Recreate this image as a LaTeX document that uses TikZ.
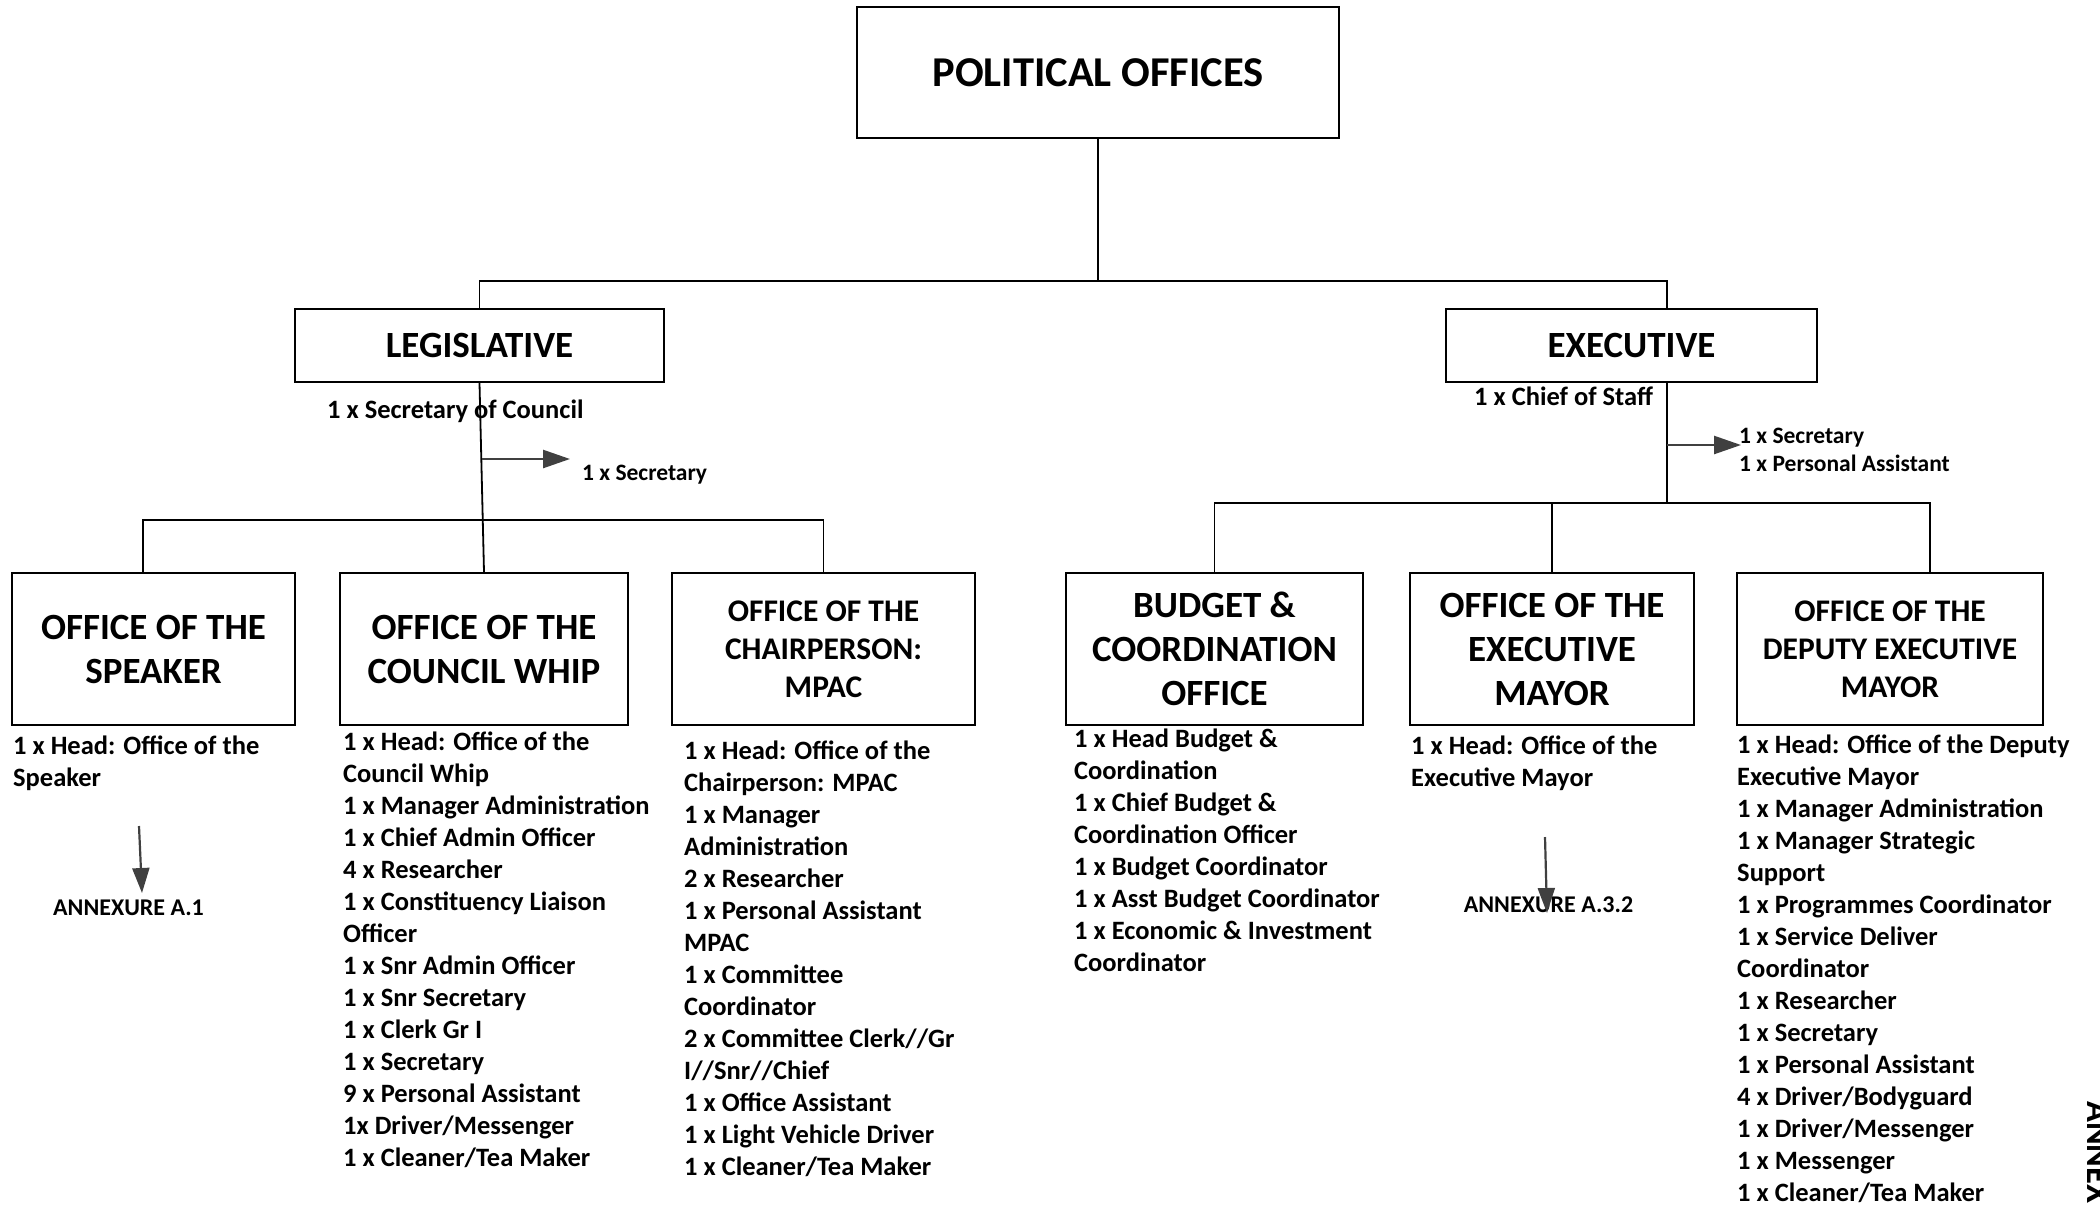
\documentclass[tikz,border=0pt]{standalone}
\usepackage{fontspec}
\setmainfont{Carlito}
\usetikzlibrary{arrows.meta}
\newcommand\myst{\rule{0pt}{20pt}}
\newcommand\mysts{\rule{0pt}{18pt}}
\begin{document}
\begin{tikzpicture}[x=1pt,y=-1pt,
  box/.style={draw=black, line width=2pt, inner sep=0pt, align=center,
    font=\fontsize{37}{44}\selectfont\bfseries},
  boxs/.style={box, font=\fontsize{31.5}{38}\selectfont\bfseries},
  lst/.style={anchor=north west, inner sep=0pt, align=left,
    font=\fontsize{26.5}{32}\selectfont\bfseries},
  lsts/.style={anchor=north west, inner sep=0pt, align=left,
    font=\fontsize{23.5}{28}\selectfont\bfseries},
  lbl/.style={anchor=base west, inner sep=0pt,
    font=\fontsize{26.5}{32}\selectfont\bfseries},
  lbls/.style={anchor=base west, inner sep=0pt,
    font=\fontsize{23.5}{28}\selectfont\bfseries},
  ann/.style={anchor=base, inner sep=0pt,
    font=\fontsize{24}{28}\selectfont\bfseries},
  conn/.style={draw=black, line width=1.8pt},
  arr/.style={draw=black!75, line width=2.5pt, -{Triangle[length=27pt,width=18pt]}},
  arrd/.style={draw=black!75, line width=2.2pt, -{Triangle[length=25pt,width=17pt]}}
]
\useasboundingbox (0,0) rectangle (2100,1205);

% top level
\node[box, font=\fontsize{42.5}{50}\selectfont\bfseries, minimum width=482pt, minimum height=131pt] (pol) at (1098,72.5) {POLITICAL OFFICES};
\node[box, minimum width=369pt, minimum height=73pt] (leg) at (479.5,345.5) {LEGISLATIVE};
\node[box, minimum width=371pt, minimum height=73pt] (exe) at (1631.5,345.5) {EXECUTIVE};

% offices
\node[box, minimum width=283pt, minimum height=152pt] (spk) at (153.5,649) {OFFICE OF THE\\SPEAKER};
\node[box, minimum width=288pt, minimum height=152pt] (whip) at (484,649) {OFFICE OF THE\\COUNCIL WHIP};
\node[boxs, minimum width=303pt, minimum height=152pt] (mpac) at (823.5,649) {OFFICE OF THE\\CHAIRPERSON:\\MPAC};
\node[box, minimum width=297pt, minimum height=152pt] (bud) at (1214.5,649) {BUDGET \&\\COORDINATION\\OFFICE};
\node[box, minimum width=284pt, minimum height=152pt] (may) at (1552,649) {OFFICE OF THE\\EXECUTIVE\\MAYOR};
\node[boxs, minimum width=306pt, minimum height=152pt] (dep) at (1890,649) {OFFICE OF THE\\DEPUTY EXECUTIVE\\MAYOR};

% coordinates
\coordinate (j0) at (1098,281);
\coordinate (exeTop) at (1667,309);
\coordinate (exeBot) at (1667,382);
\coordinate (j2) at (1667,503);
\coordinate (j1) at (483,520);
\coordinate (spkTop) at (143,573);
\coordinate (depTop) at (1930,573);
\coordinate (ls) at (482,459);
\coordinate (lt) at (570,459);
\coordinate (es) at (1667,445);
\coordinate (et) at (1741,445);
\coordinate (an1s) at (139,826);
\coordinate (an1e) at (142,893);
\coordinate (an2s) at (1545,837);
\coordinate (an2e) at (1547,913);

% connectors
\draw[conn] (pol.south) -- (j0);
\draw[conn] (leg.north) |- (j0) -| (exeTop);
\draw[conn] (leg.south) -- (whip.north);
\draw[conn] (spkTop) |- (j1) -| (mpac.north);
\draw[conn] (exeBot) -- (j2);
\draw[conn] (bud.north) |- (j2) -| (depTop);
\draw[conn] (may.north) -- (may.north |- j2);

% side labels
\node[lbl] (socl) at (327,418) {1 x Secretary of Council};
\node[lbls] (sec1) at (582,480) {1 x Secretary};
\node[lbl] (cos) at (1474,405) {1 x Chief of Staff};
\node[lsts] (sec2) at (1739,425) {\mysts 1 x Secretary\\1 x Personal Assistant};
\draw[arr] (ls) -- (lt);
\draw[arr] (es) -- (et);

% lists
\node[lst] (spkl) at (13,734) {\myst 1 x Head: Office of the\\Speaker};
\node[lst] (whipl) at (343,730) {\myst 1 x Head: Office of the\\Council Whip\\1 x Manager Administration\\1 x Chief Admin Officer\\4 x Researcher\\1 x Constituency Liaison\\Officer\\1 x Snr Admin Officer\\1 x Snr Secretary\\1 x Clerk Gr I\\1 x Secretary\\9 x Personal Assistant\\1x Driver/Messenger\\1 x Cleaner/Tea Maker};
\node[lst] (mpacl) at (684,739) {\myst 1 x Head: Office of the\\Chairperson: MPAC\\1 x Manager\\Administration\\2 x Researcher\\1 x Personal Assistant\\MPAC\\1 x Committee\\Coordinator\\2 x Committee Clerk//Gr\\I//Snr//Chief\\1 x Office Assistant\\1 x Light Vehicle Driver\\1 x Cleaner/Tea Maker};
\node[lst] (budl) at (1074,727) {\myst 1 x Head Budget \&\\Coordination\\1 x Chief Budget \&\\Coordination Officer\\1 x Budget Coordinator\\1 x Asst Budget Coordinator\\1 x Economic \& Investment\\Coordinator};
\node[lst] (mayl) at (1411,734) {\myst 1 x Head: Office of the\\Executive Mayor};
\node[lst] (depl) at (1737,733) {\myst 1 x Head: Office of the Deputy\\Executive Mayor\\1 x Manager Administration\\1 x Manager Strategic\\Support\\1 x Programmes Coordinator\\1 x Service Deliver\\Coordinator\\1 x Researcher\\1 x Secretary\\1 x Personal Assistant\\4 x Driver/Bodyguard\\1 x Driver/Messenger\\1 x Messenger\\1 x Cleaner/Tea Maker};

% annexures
\node[ann] (an1) at (128.5,915) {ANNEXURE A.1};
\node[ann] (an2) at (1548.5,912) {ANNEXURE A.3.2};
\draw[arrd] (an1s) -- (an1e);
\draw[arrd] (an2s) -- (an2e);

\node[anchor=base west, inner sep=0pt, rotate=-90, font=\fontsize{34.5}{40}\selectfont\bfseries] (annx) at (2087,1101) {ANNEX};
\end{tikzpicture}
\end{document}
